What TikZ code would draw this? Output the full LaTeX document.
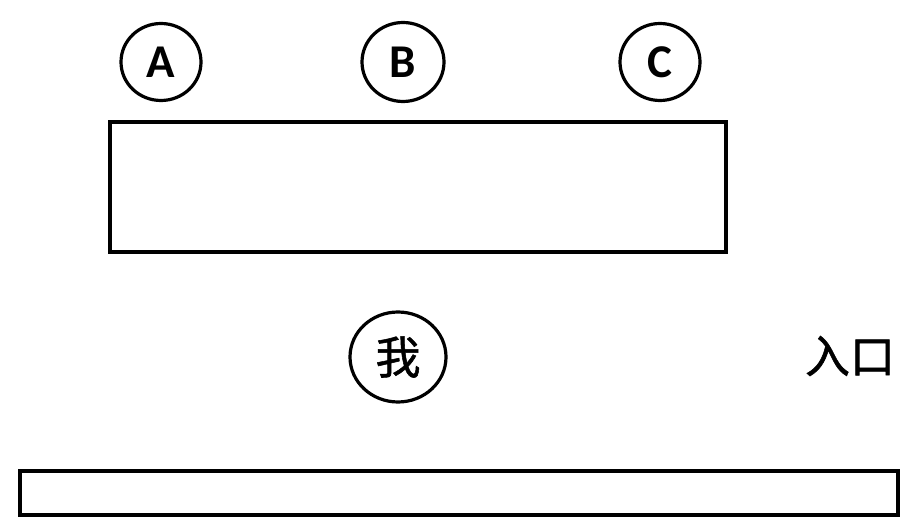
\documentclass[tikz,border=0pt]{standalone}
\usepackage{fontspec}
\setmainfont{Carlito}
\newfontfamily\cjk{Noto Sans CJK SC}[FakeBold=1.2]
\usetikzlibrary{shapes.geometric}
\begin{document}
\begin{tikzpicture}[x=1pt,y=-1pt,
  person/.style={draw,line width=3.2pt,ellipse,inner sep=0pt},
  box/.style={draw,line width=4.5pt},
  lbl/.style={font=\fontsize{47}{47}\selectfont\bfseries},
  cjklbl/.style={font=\fontsize{45}{45}\selectfont\cjk}]
\useasboundingbox[fill=white] (0,0) rectangle (915,529);
\node[person,minimum width=80pt,minimum height=77pt,lbl] (a) at (161,62) {A};
\node[person,minimum width=82pt,minimum height=79pt,lbl] (b) at (403,62) {B};
\node[person,minimum width=80pt,minimum height=77pt,lbl] (c) at (660,62) {C};
\draw[box] (110,122) rectangle (726,252);
\node[person,minimum width=96pt,minimum height=90pt,cjklbl] (me) at (398,357) {我};
\node[cjklbl,inner sep=0pt] (entry) at (850,356) {入口};
\draw[box] (20,471) rectangle (898,515);
\end{tikzpicture}
\end{document}
